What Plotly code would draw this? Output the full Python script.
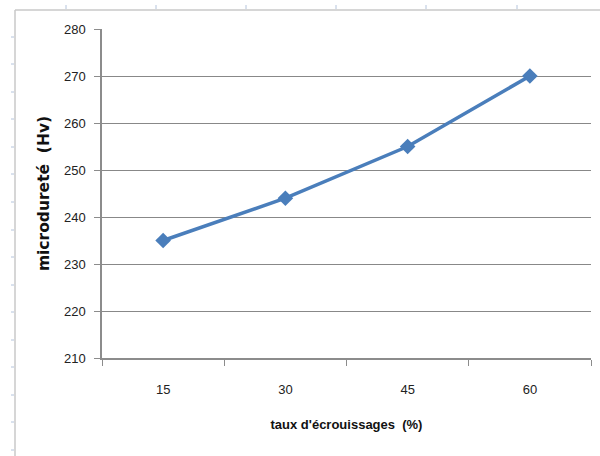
import plotly.graph_objects as go

# Microhardness versus cold-work rate
taux = ["15", "30", "45", "60"]
microdurete = [235, 244, 255, 270]
y_ticks = [210, 220, 230, 240, 250, 260, 270, 280]

W, H = 600, 456
L, R, T, B = 102, 9, 29, 98
pw, ph = W - L - R, H - T - B


def px(x):
    return (x - L) / pw


def py(y):
    return (H - B - y) / ph


fig = go.Figure()
fig.add_trace(go.Scatter(
    x=taux, y=microdurete, mode="lines+markers",
    line=dict(color="#4a7ebb", width=3.5),
    marker=dict(symbol="diamond", size=12, color="#4a7ebb"),
    showlegend=False,
))

# Page frame with ruler marks around the chart
shapes = [
    dict(type="line", xref="paper", yref="paper", x0=px(15), x1=px(600), y0=py(10), y1=py(10),
         line=dict(color="#c8c8c8", width=1.5)),
    dict(type="line", xref="paper", yref="paper", x0=px(15), x1=px(15), y0=py(10), y1=py(456),
         line=dict(color="#c8c8c8", width=1.5)),
]
for yy in [37, 64, 92, 119, 147, 174, 202, 230, 257, 285, 312, 340, 367, 395, 422, 450]:
    shapes.append(dict(type="line", xref="paper", yref="paper", x0=px(11), x1=px(14),
                       y0=py(yy), y1=py(yy), line=dict(color="#b4c4dc", width=1)))
for xx in [66, 156, 246, 336, 426, 517]:
    shapes.append(dict(type="line", xref="paper", yref="paper", x0=px(xx), x1=px(xx),
                       y0=py(5), y1=py(9), line=dict(color="#b4c4dc", width=1)))

font = "Liberation Sans, Arial"

fig.update_layout(
    width=W, height=H,
    margin=dict(l=L, r=R, t=T, b=B),
    paper_bgcolor="white", plot_bgcolor="white",
    shapes=shapes,
    font=dict(family=font, size=13, color="#222"),
    xaxis=dict(
        type="category", range=[-0.5, 3.5],
        showgrid=False, showline=True, linecolor="#8c8c8c", linewidth=1.5,
        ticks="outside", tickson="boundaries", ticklen=6, tickcolor="#8c8c8c",
        tickfont=dict(size=13, color="#222"), ticklabelstandoff=19,
        title=dict(text="<b>taux d'écrouissages  (%)</b>",
                   font=dict(family="Liberation Sans Narrow, Liberation Sans", size=13, color="#111"),
                   standoff=24),
    ),
    yaxis=dict(
        range=[210, 280], tickvals=y_ticks,
        showgrid=True, gridcolor="#888888", gridwidth=1.3,
        showline=True, linecolor="#8c8c8c", linewidth=1.5,
        ticks="outside", ticklen=6, tickcolor="#8c8c8c",
        tickfont=dict(size=13, color="#222"), ticklabelstandoff=6,
        title=dict(text="<b>microdureté  (Hv)</b>",
                   font=dict(family="DejaVu Sans", size=15.5, color="#111"), standoff=11),
        zeroline=False,
    ),
)

fig.write_html("out.html")
